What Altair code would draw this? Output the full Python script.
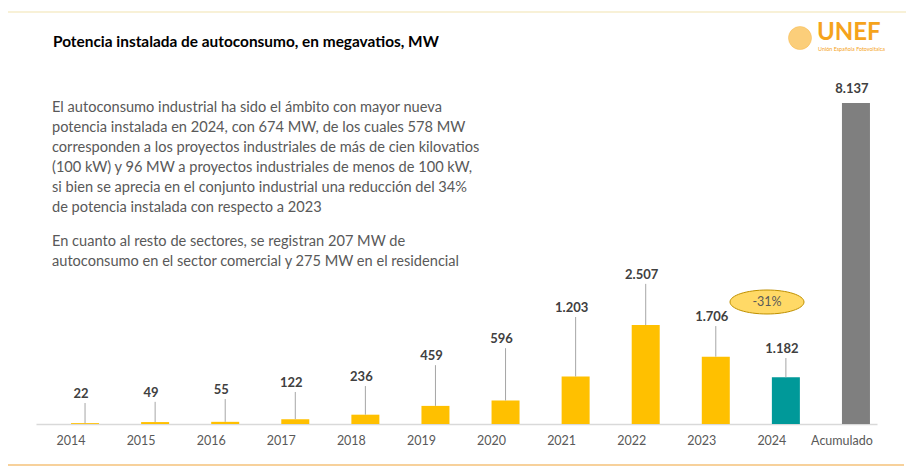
import altair as alt
import pandas as pd

# ---- data ----
categories = ["2014", "2015", "2016", "2017", "2018", "2019", "2020",
              "2021", "2022", "2023", "2024", "Acumulado"]
values_mw = [22, 49, 55, 122, 236, 459, 596, 1203, 2507, 1706, 1182, 8137]
bar_kind = ["anual"] * 10 + ["2024", "acumulado"]
# height (in MW units) where each data label sits (Excel-style leader labels)
label_at_mw = [760, 790, 860, 1040, 1190, 1720, 2150, 2940, 3780, 2710, 1900, 8490]
has_leader = [True] * 11 + [False]

title_text = "Potencia instalada de autoconsumo, en megavatios, MW"
paragraph_1 = [
    "El autoconsumo industrial ha sido el ámbito con mayor nueva",
    "potencia instalada en 2024, con 674 MW, de los cuales 578 MW",
    "corresponden a los proyectos industriales de más de cien kilovatios",
    "(100 kW) y 96 MW a proyectos industriales de menos de 100 kW,",
    "si bien se aprecia en el conjunto industrial una reducción del 34%",
    "de potencia instalada con respecto a 2023",
]
paragraph_2 = [
    "En cuanto al resto de sectores, se registran 207 MW de",
    "autoconsumo en el sector comercial y 275 MW en el residencial",
]
badge_text = "-31%"

df = pd.DataFrame({
    "cat": categories,
    "mw": values_mw,
    "kind": bar_kind,
    "label_at": label_at_mw,
    "leader": has_leader,
    "label": [f"{v:,}".replace(",", ".") for v in values_mw],
})

FONT = "Lato"
W, H = 841, 416
YMAX = 10545

x = alt.X("cat:N", sort=categories, title=None,
          scale=alt.Scale(paddingInner=0, paddingOuter=0),
          axis=alt.Axis(labelAngle=0, ticks=False, domainColor="#D9D9D9",
                        domainWidth=1.5, labelColor="#595959", labelFontSize=12.5,
                        labelFont=FONT, labelPadding=10, grid=False))
yscale = alt.Scale(domain=[0, YMAX], nice=False, zero=True)

bars = alt.Chart(df).mark_bar(size=28, xOffset=14).encode(
    x=x,
    y=alt.Y("mw:Q", scale=yscale, axis=None),
    color=alt.Color("kind:N", legend=None,
                    scale=alt.Scale(domain=["anual", "2024", "acumulado"],
                                    range=["#FFC000", "#009999", "#7F7F7F"])),
)

leaders = alt.Chart(df).transform_filter("datum.leader").mark_rule(
    color="#A6A6A6", strokeWidth=1, xOffset=14, y2Offset=9
).encode(
    x=x,
    y=alt.Y("mw:Q", scale=yscale, axis=None),
    y2="label_at:Q",
)

labels = alt.Chart(df).mark_text(
    font=FONT, fontSize=13, fontWeight="bold", color="#404040",
    baseline="middle", xOffset=10
).encode(
    x=x,
    y=alt.Y("label_at:Q", scale=yscale, axis=None),
    text="label:N",
)

# paragraph
para_df = pd.DataFrame({
    "t": paragraph_1 + paragraph_2,
    "i": list(range(len(paragraph_1) + len(paragraph_2))),
    "p": [0] * len(paragraph_1) + [1] * len(paragraph_2),
})
para = alt.Chart(para_df).transform_calculate(
    py="100 + datum.i * 19.9 + datum.p * 14.6"
).mark_text(font=FONT, fontSize=14.6, color="#595959", align="left",
            baseline="middle").encode(
    x=alt.value(16), y=alt.Y("py:Q", scale=None, axis=None), text="t:N")

title = alt.Chart(pd.DataFrame({"t": [title_text]})).mark_text(
    font=FONT, fontSize=15.4, fontWeight="bold", color="#000000",
    align="left", baseline="middle").encode(
    x=alt.value(17), y=alt.value(34), text="t:N")

# -31% badge
ellipse_path = "M -1 0 A 1 0.324 0 1 0 1 0 A 1 0.324 0 1 0 -1 0 Z"
badge_df = pd.DataFrame({"t": [badge_text]})
badge = alt.Chart(badge_df).mark_point(
    shape=ellipse_path, size=5476, filled=True, fill="#FFD966",
    stroke="#BF9000", strokeWidth=1, opacity=1
).encode(x=alt.value(731), y=alt.value(294))
badge_txt = alt.Chart(badge_df).mark_text(
    font=FONT, fontSize=12.5, color="#595959", baseline="middle").encode(
    x=alt.value(731), y=alt.value(294), text="t:N")

# decorative lines
top_line = alt.Chart(pd.DataFrame({"a": [0]})).mark_rule(
    color="#F2E4B0", strokeWidth=1.2).encode(
    x=alt.value(-28), x2=alt.value(870), y=alt.value(4), y2=alt.value(4))
bottom_line = alt.Chart(pd.DataFrame({"a": [0]})).mark_rule(
    color="#F4C27A", strokeWidth=1.5).encode(
    x=alt.value(-28), x2=alt.value(868), y=alt.value(457), y2=alt.value(457))

# logo
logo_orb = alt.Chart(pd.DataFrame({"a": [0]})).mark_point(
    shape="circle", size=530, filled=True, fill="#FBC35A", opacity=0.8,
    stroke="#F7A823", strokeWidth=0.5).encode(x=alt.value(764), y=alt.value(30))
logo_txt = alt.Chart(pd.DataFrame({"t": ["UNEF"]})).mark_text(
    font=FONT, fontSize=24, fontWeight="bold", color="#F5A31C",
    align="left", baseline="middle").encode(
    x=alt.value(781), y=alt.value(25), text="t:N")
logo_sub = alt.Chart(pd.DataFrame({"t": ["Unión Española Fotovoltaica"]})).mark_text(
    font=FONT, fontSize=5.4, color="#F5A31C", align="left", baseline="middle").encode(
    x=alt.value(782), y=alt.value(41), text="t:N")

chart = alt.layer(
    top_line, bottom_line, title, para, bars, leaders, labels,
    badge, badge_txt, logo_orb, logo_txt, logo_sub
).properties(
    width=W, height=H,
    background="white",
    autosize=alt.AutoSizeParams(type="none"),
    padding={"left": 28, "top": 0, "right": 29, "bottom": 43},
).configure_view(stroke=None, strokeWidth=0)

chart.save("out.html", embed_options={"renderer": "svg", "actions": False})
